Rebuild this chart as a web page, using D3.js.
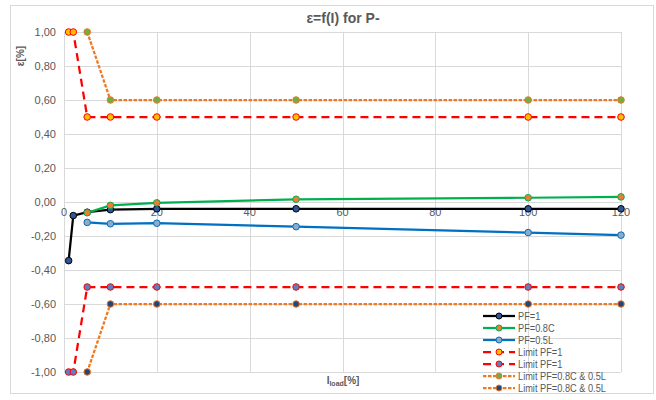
<!DOCTYPE html>
<html>
<head>
<meta charset="utf-8">
<script src="https://cdn.jsdelivr.net/npm/d3@7"></script>
<style>
  body { margin: 0; background: #fff; }
  svg { font-family: "Liberation Sans", Arial, sans-serif; }
</style>
</head>
<body>
<svg id="chart" width="656" height="400"></svg>
<script>
// data
const xLoad = [1, 2, 5, 10, 20, 50, 100, 120];
const xLoadLimit2 = [5, 10, 20, 50, 100, 120];

const pf1 = [-0.345, -0.08, -0.06, -0.045, -0.04, -0.04, -0.04, -0.04];
const pf08c = [-0.063, -0.02, -0.005, 0.016, 0.025, 0.03];
const pf05l = [-0.12, -0.128, -0.125, -0.145, -0.18, -0.195];

const limitPf1Up = [1, 1, 0.5, 0.5, 0.5, 0.5, 0.5, 0.5];
const limitPf1Down = [-1, -1, -0.5, -0.5, -0.5, -0.5, -0.5, -0.5];
const limit2Up = [1, 0.6, 0.6, 0.6, 0.6, 0.6];
const limit2Down = [-1, -0.6, -0.6, -0.6, -0.6, -0.6];

const xTicks = [0, 20, 40, 60, 80, 100, 120];
const yTicks = [1, 0.8, 0.6, 0.4, 0.2, 0, -0.2, -0.4, -0.6, -0.8, -1];

const seriesList = [
    { name: "PF=1", xs: xLoad, ys: pf1, stroke: "#000000", dash: null, fill: "#2F5597", mstroke: "#000000" },
    { name: "PF=0.8C", xs: xLoadLimit2, ys: pf08c, stroke: "#00B050", dash: null, fill: "#ED7D31", mstroke: "#00B050" },
    { name: "PF=0.5L", xs: xLoadLimit2, ys: pf05l, stroke: "#0070C0", dash: null, fill: "#8FA9C9", mstroke: "#0070C0" },
    { name: "Limit PF=1", xs: xLoad, ys: limitPf1Up, stroke: "#FF0000", dash: "8,5", fill: "#FFC000", mstroke: "#FF0000" },
    { name: "Limit PF=1", xs: xLoad, ys: limitPf1Down, stroke: "#FF0000", dash: "8,5", fill: "#5B7FC0", mstroke: "#FF0000" },
    { name: "Limit PF=0.8C & 0.5L", xs: xLoadLimit2, ys: limit2Up, stroke: "#F07820", dash: "3.5,1.5", fill: "#70AD47", mstroke: "#F07820" },
    { name: "Limit PF=0.8C & 0.5L", xs: xLoadLimit2, ys: limit2Down, stroke: "#F07820", dash: "3.5,1.5", fill: "#264478", mstroke: "#F07820" }
];

const svg = d3.select("#chart");
const textColor = "#595959";
const gridColor = "#d9d9d9";

// outer border
svg.append("rect")
    .attr("x", 10.5).attr("y", 5.5)
    .attr("width", 643).attr("height", 388)
    .attr("fill", "none").attr("stroke", gridColor);

const xScale = d3.scaleLinear().domain([0, 120]).range([64, 621]);
const yScale = d3.scaleLinear().domain([-1, 1]).range([372, 32]);

// gridlines
svg.append("g")
    .selectAll("line")
    .data(yTicks)
    .join("line")
    .attr("x1", xScale(0)).attr("x2", xScale(120))
    .attr("y1", d => Math.round(yScale(d)) + 0.5)
    .attr("y2", d => Math.round(yScale(d)) + 0.5)
    .attr("stroke", gridColor);

svg.append("g")
    .selectAll("line")
    .data(xTicks)
    .join("line")
    .attr("x1", d => Math.round(xScale(d)) + 0.5)
    .attr("x2", d => Math.round(xScale(d)) + 0.5)
    .attr("y1", yScale(1)).attr("y2", yScale(-1))
    .attr("stroke", gridColor);

// y tick labels
svg.append("g")
    .selectAll("text")
    .data(yTicks)
    .join("text")
    .attr("x", 56)
    .attr("y", d => yScale(d) + 4)
    .attr("text-anchor", "end")
    .attr("font-size", "11px")
    .attr("fill", textColor)
    .text(d => d3.format(".2f")(d).replace(".", ",").replace("−", "-"));

// x tick labels, sitting under the zero line
svg.append("g")
    .selectAll("text")
    .data(xTicks)
    .join("text")
    .attr("x", d => xScale(d))
    .attr("y", yScale(0) + 14)
    .attr("text-anchor", "middle")
    .attr("font-size", "11px")
    .attr("fill", textColor)
    .text(d => d);

// lines and markers
const lineMaker = d3.line()
    .x(d => xScale(d.x))
    .y(d => yScale(d.y));

seriesList.forEach(s => {
    const pts = s.ys.map((y, i) => ({ x: s.xs[i], y: y }));
    svg.append("path")
        .datum(pts)
        .attr("fill", "none")
        .attr("stroke", s.stroke)
        .attr("stroke-width", 2.25)
        .attr("stroke-dasharray", s.dash)
        .attr("d", lineMaker);
    svg.append("g")
        .selectAll("circle")
        .data(pts)
        .join("circle")
        .attr("cx", d => xScale(d.x))
        .attr("cy", d => yScale(d.y))
        .attr("r", 3.3)
        .attr("fill", s.fill)
        .attr("stroke", s.mstroke)
        .attr("stroke-width", 1);
});

// title
svg.append("text")
    .attr("x", 343).attr("y", 23)
    .attr("text-anchor", "middle")
    .attr("font-size", "14px")
    .attr("font-weight", "bold")
    .attr("fill", textColor)
    .text("ε=f(I) for P-");

// y axis title
svg.append("text")
    .attr("transform", "translate(24,56) rotate(-90)")
    .attr("text-anchor", "middle")
    .attr("font-size", "10px")
    .attr("font-weight", "bold")
    .attr("fill", textColor)
    .text("ε[%]");

// x axis title with subscript
const xt = svg.append("text")
    .attr("x", 343).attr("y", 384)
    .attr("text-anchor", "middle")
    .attr("font-size", "10px")
    .attr("font-weight", "bold")
    .attr("fill", textColor);
xt.append("tspan").text("I");
xt.append("tspan").attr("font-size", "7px").attr("dy", 2).text("load");
xt.append("tspan").attr("dy", -2).text("[%]");

// legend (text squeezed a bit to match the narrow original font)
const legend = svg.append("g").attr("transform", "translate(483,316)");
seriesList.forEach((s, i) => {
    const row = legend.append("g").attr("transform", `translate(0,${i * 12})`);
    row.append("line")
        .attr("x1", 0).attr("x2", 32)
        .attr("stroke", s.stroke)
        .attr("stroke-width", 2.25)
        .attr("stroke-dasharray", s.dash);
    row.append("circle")
        .attr("cx", 16).attr("r", 3)
        .attr("fill", s.fill)
        .attr("stroke", s.mstroke);
    row.append("text")
        .attr("transform", "translate(35,4) scale(0.84,1)")
        .attr("font-size", "11px")
        .attr("fill", textColor)
        .text(s.name);
});
</script>
</body>
</html>
